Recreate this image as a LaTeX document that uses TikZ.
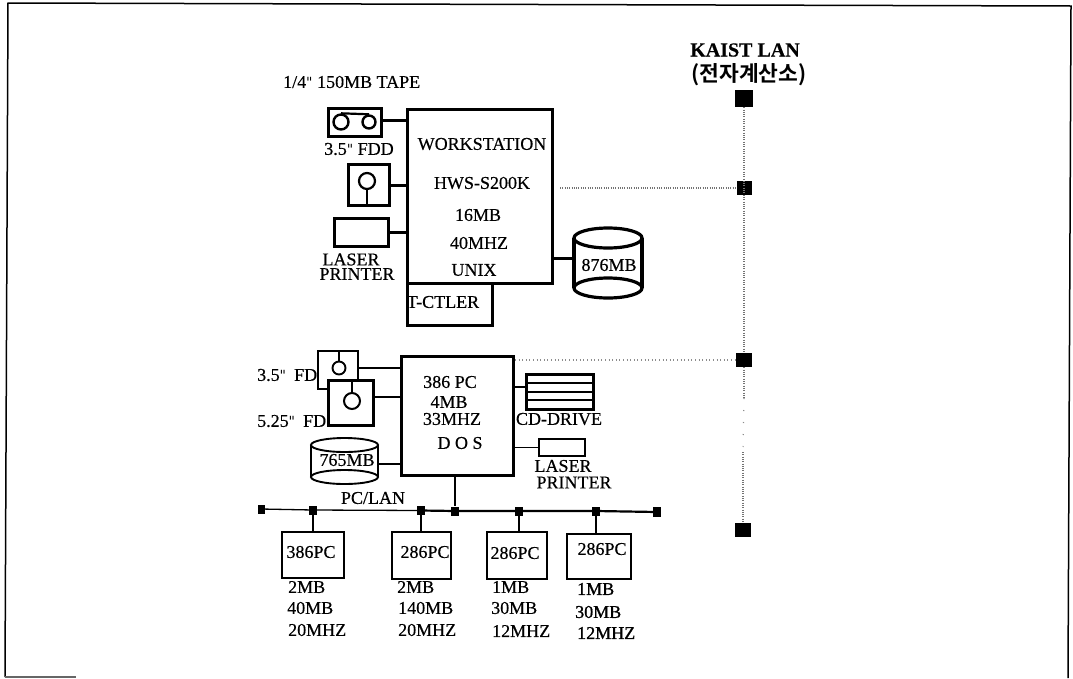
\documentclass[tikz,border=0pt]{standalone}
\usepackage{fontspec}
\setmainfont{Liberation Serif}[FakeBold=0.4]
\newfontfamily\heavyfont{Liberation Serif}[FakeBold=1.0]
\newfontfamily\quotefont{DejaVu Serif}
\newfontfamily\cjk{Noto Sans CJK KR Bold}
\newcommand{\szb}{\fontsize{18}{18}\selectfont}
\newcommand{\inchmark}{{\fontsize{14}{14}\selectfont\quotefont\symbol{34}}}
\tikzset{
  txt/.style={inner sep=0pt,font=\szb},
  txl/.style={txt,anchor=west},
  heavy/.style={inner sep=0pt,anchor=west,font=\szb\heavyfont},
  thick box/.style={draw,line width=3.2pt,inner sep=0pt,anchor=north west},
  mid box/.style={draw,line width=2.6pt,inner sep=0pt,anchor=north west},
  thin box/.style={draw,line width=2pt,inner sep=0pt,anchor=north west},
  thick link/.style={line width=3pt},
  thin link/.style={line width=1.8pt},
  ring/.style={circle,draw,inner sep=0pt},
  blob/.style={fill=black,inner sep=0pt},
  lan/.style={draw=black!55,line width=1.3pt,dash pattern=on 1pt off 1.3pt},
  lan sparse/.style={draw=black!45,line width=1.2pt,dash pattern=on 1pt off 11pt},
  void/.style={inner sep=0pt}
}
\begin{document}
\begin{tikzpicture}[x=1pt,y=-1pt,line cap=butt]
\useasboundingbox (0,0) rectangle (1073,678);
% frame
\coordinate (tl) at (8,3); \coordinate (tr) at (1071,6);
\coordinate (br) at (1068,678); \coordinate (bl) at (5,677);
\coordinate (bs) at (76,677);
\draw[line width=1.5pt] (bl) -- (tl) -- (tr) -- (br);
\draw[line width=1.2pt,black!60] (bl) -- (bs);

% workstation group
\node[thick box,minimum width=145pt,minimum height=174pt] (ws) at (406,108) {};
\node[thick box,minimum width=85pt,minimum height=42pt] (tctl) at (406,282) {};
\node[thick box,minimum width=53pt,minimum height=28pt] (tape) at (327,107) {};
\node[ring,line width=2.4pt,minimum size=15pt] (reelA) at (341,122) {};
\node[ring,line width=2.4pt,minimum size=13pt] (reelB) at (369,122) {};
\draw[line width=2.2pt] (reelA.north) -- (reelB.north);
\node[thick box,minimum width=41pt,minimum height=41pt] (fdd) at (347,163) {};
\node[ring,line width=2.2pt,minimum size=16pt] (fddc) at (367,181) {};
\draw[line width=2pt] (fddc.south) -- (fddc.south |- fdd.south);
\node[thick box,minimum width=54pt,minimum height=28pt] (lp) at (333,217) {};
\node[void,minimum width=68pt,minimum height=70pt,anchor=north west] (disk) at (574,228) {};
\draw[line width=3.2pt] (608,238) ellipse [x radius=34,y radius=10];
\draw[line width=3.2pt] (608,288) ellipse [x radius=34,y radius=10];
\draw[line width=3.2pt] (574,238) -- (574,288) (642,238) -- (642,288);
\draw[thick link] (tape.east) ++(0,-2) -- ++(26,0);
\draw[thick link] (fdd.east) -- (fdd.east -| ws.west);
\draw[thick link] (lp.east) -- (lp.east -| ws.west);
\draw[thick link] (ws.east |- disk.west) ++(0,-5) coordinate (wsd) -- (wsd -| disk.west);

\node[txl] (tTape) at (283,82) {1/4\inchmark{} 150MB TAPE};
\node[txt] (tFdd) at (359,149) {3.5\inchmark{} FDD};
\node[txt] (tLa) at (351,259.5) {LASER};
\node[txt] (tPr) at (357,274) {PRINTER};
\node[txt] (tWs) at (482,144) {WORKSTATION};
\node[txt] (tHws) at (482,183) {HWS-S200K};
\node[txt] (t16) at (478,215) {16MB};
\node[txt] (t40) at (479,243) {40MHZ};
\node[txt] (tUx) at (474,270) {UNIX};
\node[txt] (tCt) at (443,302) {T-CTLER};
\node[txt] (t876) at (609,265) {876MB};

% KAIST LAN
\node[inner sep=0pt,font=\fontsize{20}{20}\selectfont\bfseries] (kaist) at (745,50) {KAIST LAN};
\node[inner sep=0pt,font=\fontsize{21.5}{22}\selectfont\cjk] (kcc) at (749,75) {(전자계산소)};
\node[blob,minimum width=18pt,minimum height=17pt] (n1) at (744,98.5) {};
\node[blob,minimum width=15pt,minimum height=14pt] (n2) at (744,188) {};
\node[blob,minimum width=16pt,minimum height=14pt] (n3) at (744,360) {};
\node[blob,minimum width=16pt,minimum height=14pt] (n4) at (743,530) {};
\coordinate (gapA) at (744,398);
\coordinate (gapB) at (743,452);
\draw[lan] (n1) -- (n3);
\draw[lan] (n3) -- (gapA);
\draw[lan sparse] (gapA) -- (gapB);
\draw[lan] (gapB) -- (n4);
\coordinate (wsTap) at (560,188);
\draw[lan] (wsTap) -- (n2);

% 386 PC group
\node[mid box,minimum width=112pt,minimum height=119pt] (pc) at (400,355) {};
\coordinate (pcTap) at (515,360);
\draw[lan sparse,dash pattern=on 1pt off 2.6pt] (pcTap) -- (n3);
\node[thin box,fill=white,minimum width=40pt,minimum height=38pt] (fa) at (317,350) {};
\node[ring,line width=1.9pt,minimum size=13pt] (fac) at (339,368) {};
\draw[line width=1.7pt] (fac.north) -- (fac.north |- fa.north);
\node[mid box,fill=white,minimum width=45pt,minimum height=45pt] (fb) at (327,379) {};
\node[ring,line width=2pt,minimum size=16pt] (fbc) at (352,401) {};
\draw[line width=1.7pt] (fbc.north) -- (fbc.north |- fb.north);
\coordinate (faOut) at (357,368);
\coordinate (fbOut) at (372,397);
\draw[thin link] (faOut) -- (faOut -| pc.west);
\draw[thin link] (fbOut) -- (fbOut -| pc.west);
\node[void,minimum width=67pt,minimum height=46pt,anchor=north west] (d7) at (311,438) {};
\draw[line width=1.9pt] (344.5,445) ellipse [x radius=33.5,y radius=7];
\draw[line width=1.9pt] (344.5,477) ellipse [x radius=33.5,y radius=7];
\draw[line width=1.9pt] (311,445) -- (311,477) (378,445) -- (378,477);
\coordinate (d7Out) at (378,464);
\draw[thin link] (d7Out) -- (d7Out -| pc.west);
\node[mid box,minimum width=67pt,minimum height=35pt] (cd) at (525,373) {};
\coordinate (cdA) at (525,383); \coordinate (cdB) at (525,392); \coordinate (cdC) at (525,400);
\draw[line width=2pt] (cdA) -- (cdA -| cd.east) (cdB) -- (cdB -| cd.east) (cdC) -- (cdC -| cd.east);
\coordinate (cdOut) at (525,387);
\draw[thin link] (cdOut) -- (cdOut -| pc.east);
\node[thin box,minimum width=46pt,minimum height=17pt] (lp2) at (538,438) {};
\draw[thin link] (lp2.west) -- (lp2.west -| pc.east);

\node[txl] (t35) at (257,375) {3.5\inchmark\hspace{3.5pt} FD};
\node[txl] (t525) at (257,421) {5.25\inchmark\hspace{3.5pt} FD};
\node[txt] (t765) at (347,460) {765MB};
\node[txt] (t386a) at (450,382) {386 PC};
\node[txt] (t386b) at (449,402) {4MB};
\node[txt] (t386c) at (452,419) {33MHZ};
\node[txt] (t386d) at (460,443) {D O S};
\node[txt] (tCd) at (559,419) {CD-DRIVE};
\node[txt] (tLa2) at (563,466) {LASER};
\node[txt] (tPr2) at (574,482.5) {PRINTER};
\node[txt] (tPl) at (373,498) {PC/LAN};

% PC/LAN bus
\node[blob,minimum width=7pt,minimum height=9pt] (b0) at (261,509) {};
\node[blob,minimum width=8pt,minimum height=9pt] (b1) at (313,510) {};
\node[blob,minimum width=8pt,minimum height=9pt] (b2) at (421,510.5) {};
\node[blob,minimum width=8pt,minimum height=9pt] (b3) at (455,511) {};
\node[blob,minimum width=8pt,minimum height=9pt] (b4) at (519,511) {};
\node[blob,minimum width=8pt,minimum height=9pt] (b5) at (596,511) {};
\node[blob,minimum width=8pt,minimum height=10pt] (b6) at (657,512) {};
\draw[line width=1.3pt] (b0) -- (b1) -- (b2);
\draw[line width=2.2pt] (b2) -- (b3) -- (b4) -- (b5) -- (b6);
\draw[thin link] (pc.south -| b3) -- (b3);

\node[thin box,minimum width=62pt,minimum height=46pt] (p1) at (281,531) {};
\node[thin box,minimum width=59pt,minimum height=47pt] (p2) at (391,531) {};
\node[thin box,minimum width=60pt,minimum height=47pt] (p3) at (486,531) {};
\node[thin box,minimum width=64pt,minimum height=45pt] (p4) at (566,533) {};
\draw[thin link] (b1) -- (b1 |- p1.north);
\draw[thin link] (b2) -- (b2 |- p2.north);
\draw[thin link] (b4) -- (b4 |- p3.north);
\draw[thin link] (b5) -- (b5 |- p4.north);

\node[txt] (p1t) at (311,552) {386PC};
\node[txt] (p2t) at (425,552) {286PC};
\node[txt] (p3t) at (515,553) {286PC};
\node[txt] (p4t) at (602,549) {286PC};

\node[txl] (c1a) at (288,587) {2MB};
\node[txl] (c1b) at (287,608) {40MB};
\node[txl] (c1c) at (288,630) {20MHZ};
\node[txl] (c2a) at (397,587) {2MB};
\node[txl] (c2b) at (398,608) {140MB};
\node[txl] (c2c) at (398,630) {20MHZ};
\node[txl] (c3a) at (492,587) {1MB};
\node[txl] (c3b) at (491,608) {30MB};
\node[txl] (c3c) at (492,631) {12MHZ};
\node[heavy] (c4a) at (577,589) {1MB};
\node[heavy] (c4b) at (575,612) {30MB};
\node[heavy] (c4c) at (577,633) {12MHZ};
\end{tikzpicture}
\end{document}
